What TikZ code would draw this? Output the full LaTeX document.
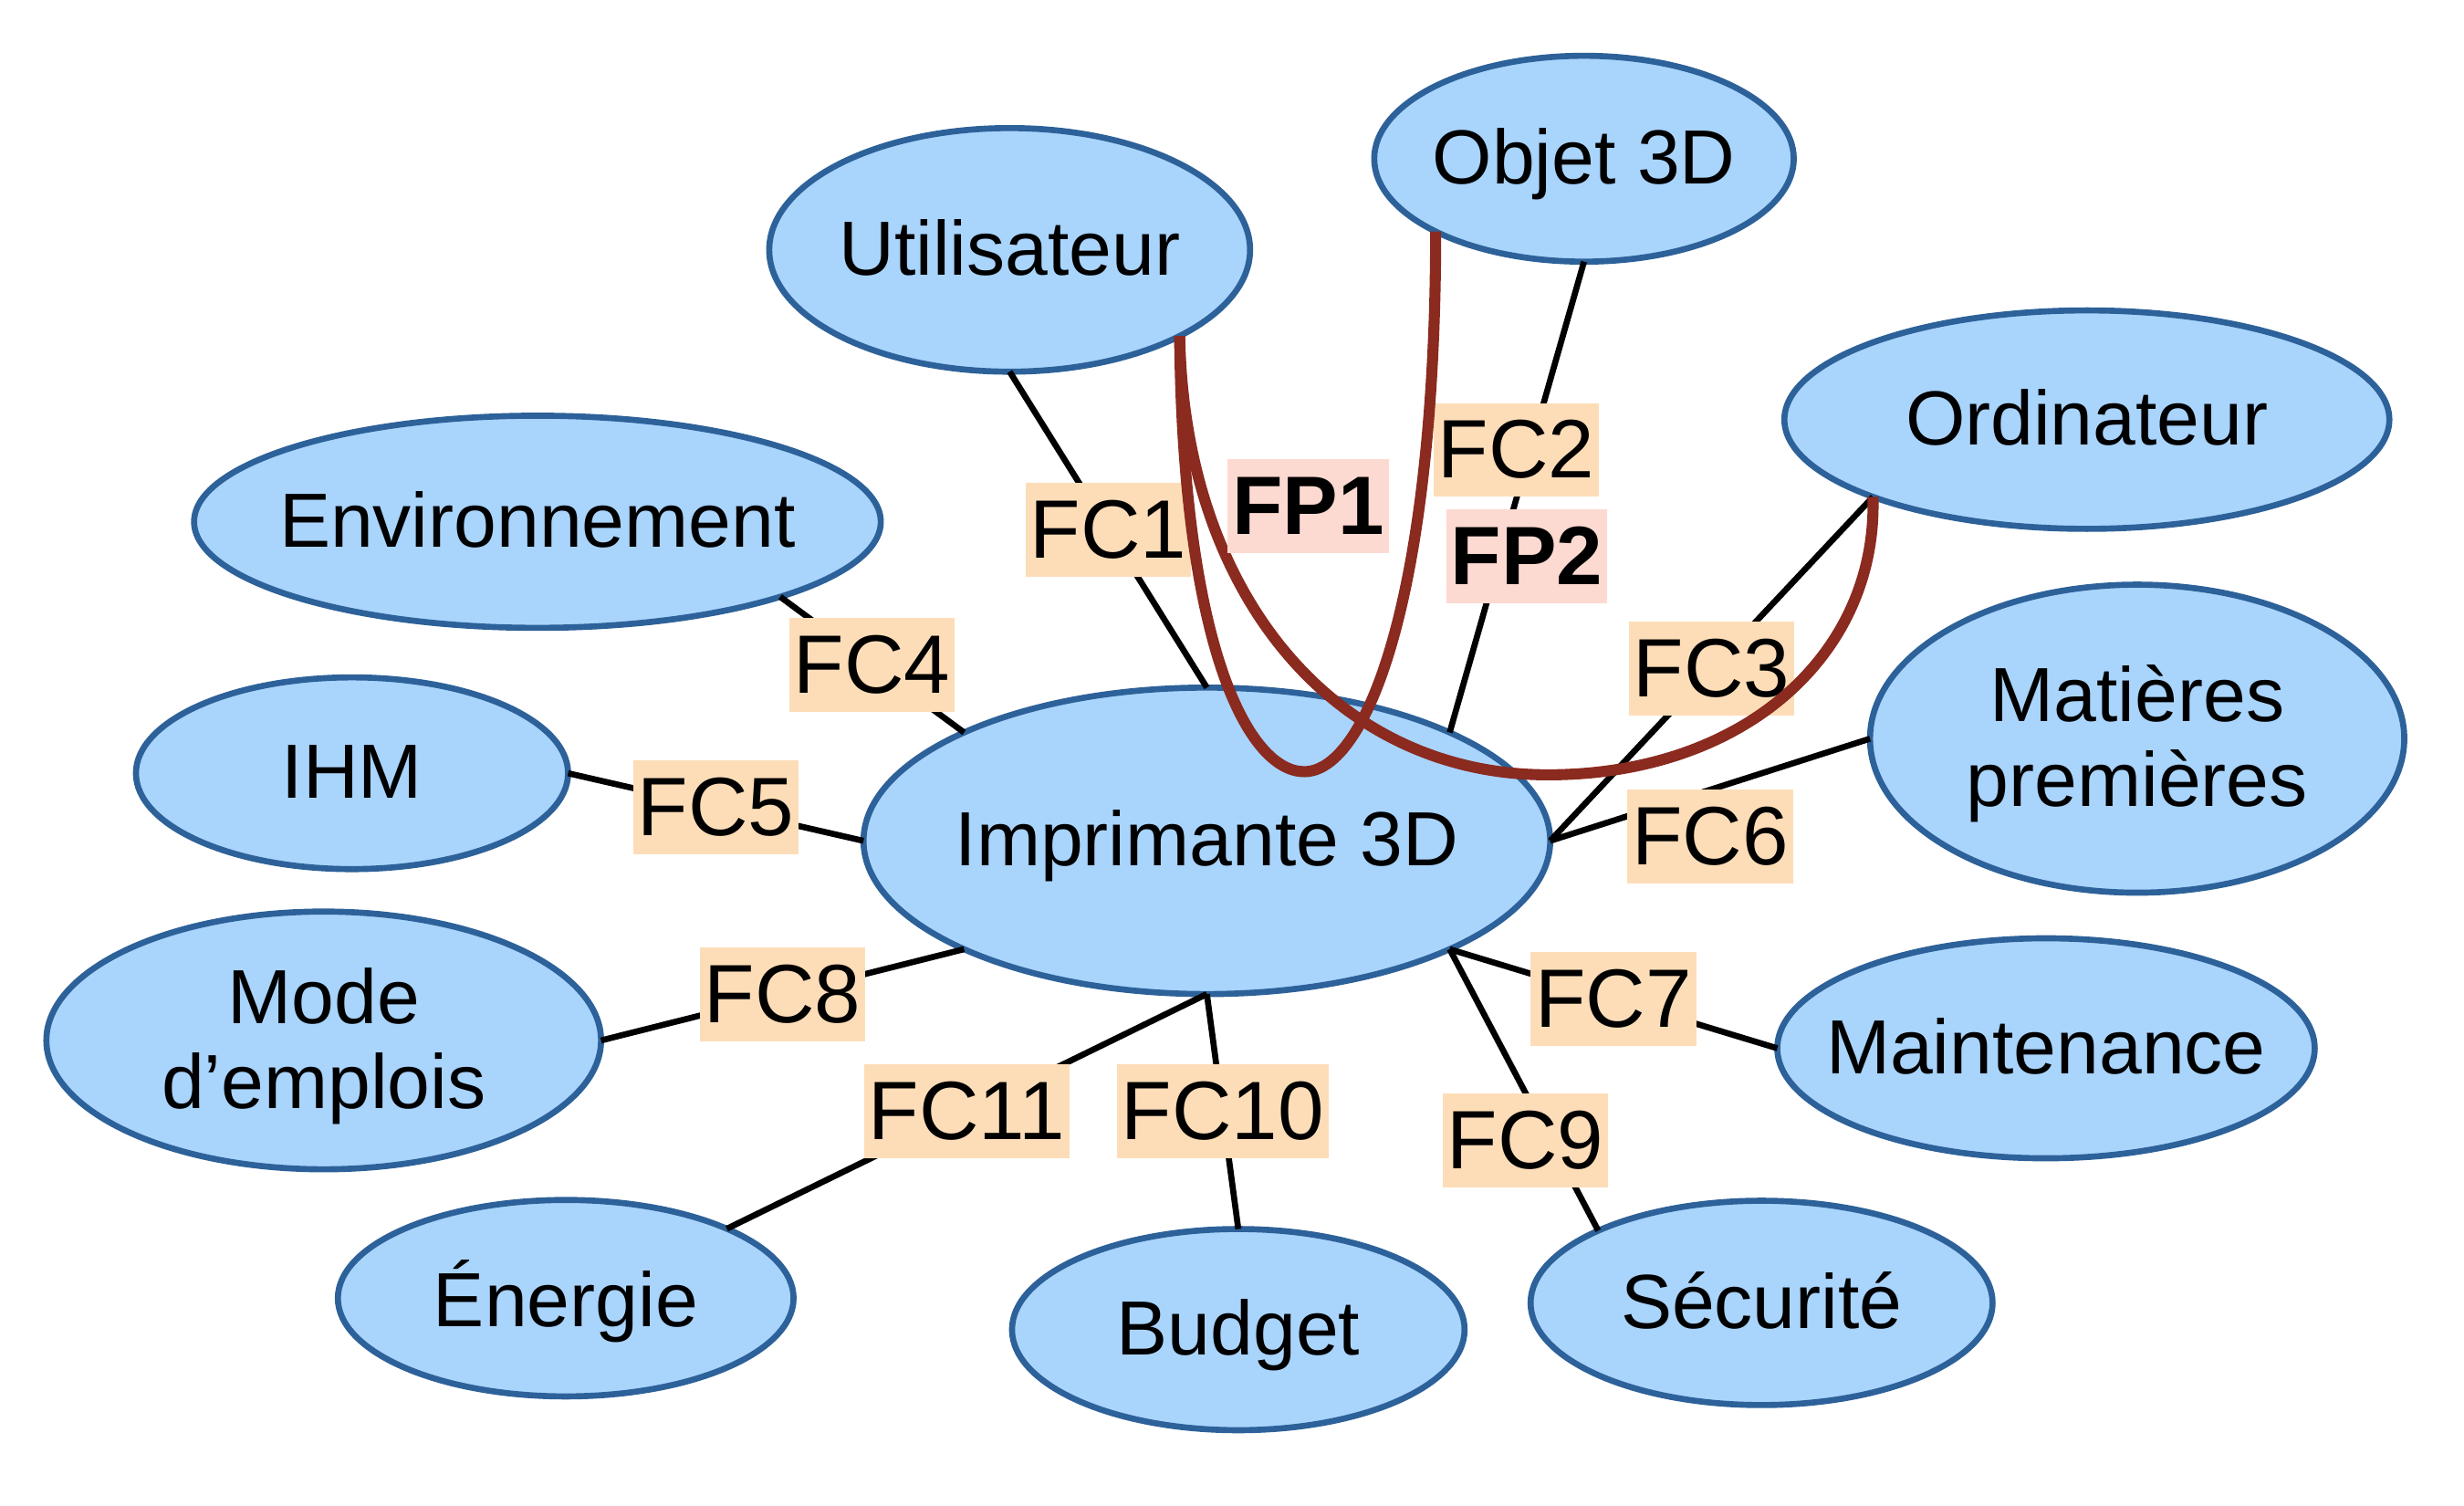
\documentclass[tikz,border=0pt]{standalone}
\usepackage{fontspec}
\setmainfont{Liberation Sans}
\usetikzlibrary{shapes.geometric}
\definecolor{entfill}{HTML}{A9D4FC}
\definecolor{entdraw}{HTML}{2D6199}
\definecolor{fcfill}{HTML}{FDDDB8}
\definecolor{fpfill}{HTML}{FDDAD1}
\definecolor{fpline}{HTML}{8B2A1F}
\newcommand{\entlabel}[1]{\makebox[0pt]{\raisebox{-1.5pt}[\height][\depth]{\begin{tabular}{@{}c@{}}#1\end{tabular}}}}
\begin{document}
\begin{tikzpicture}[x=0.1mm,y=-0.1mm,
  ent/.style={ellipse, draw=entdraw, fill=entfill, line width=1.1pt, inner sep=0pt, outer sep=0pt, font=\fontsize{13.9}{15.4}\selectfont},
  link/.style={draw=black, line width=1.1pt},
  fc/.style={fill=fcfill, inner xsep=0.8pt, inner ysep=0pt, text height=13.6pt, text depth=3.4pt, font=\fontsize{15}{18}\selectfont},
  fp/.style={fill=fpfill, inner xsep=0.8pt, inner ysep=0pt, text height=13.6pt, text depth=3.4pt, font=\fontsize{15}{18}\selectfont\bfseries},
  fpcurve/.style={draw=fpline, line width=2pt}]
\useasboundingbox (0,0) rectangle (1568,958);

% entities
\node[ent, minimum width=30.6mm, minimum height=15.5mm] (u)   at (642.5,159) {\entlabel{Utilisateur}};
\node[ent, minimum width=26.7mm, minimum height=13.1mm] (ob)  at (1008,101)  {\entlabel{Objet 3D}};
\node[ent, minimum width=38.5mm, minimum height=13.9mm] (ord) at (1328,267)  {\entlabel{Ordinateur}};
\node[ent, minimum width=43.7mm, minimum height=13.5mm] (env) at (342,332)   {\entlabel{Environnement}};
\node[ent, minimum width=34.0mm, minimum height=19.6mm] (mp)  at (1360,470)  {\entlabel{Matières\\premières}};
\node[ent, minimum width=27.5mm, minimum height=12.2mm] (ihm) at (224,492)   {\entlabel{IHM}};
\node[ent, minimum width=43.7mm, minimum height=19.5mm] (imp) at (768,535)   {\entlabel{Imprimante 3D}};
\node[ent, minimum width=35.3mm, minimum height=16.4mm] (mode) at (206,662)  {\entlabel{Mode\\d’emplois}};
\node[ent, minimum width=34.2mm, minimum height=14.0mm] (mnt) at (1302,667)  {\entlabel{Maintenance}};
\node[ent, minimum width=29.0mm, minimum height=12.5mm] (ene) at (360,826)   {\entlabel{Énergie}};
\node[ent, minimum width=28.8mm, minimum height=12.8mm] (bud) at (788,846)   {\entlabel{Budget}};
\node[ent, minimum width=29.4mm, minimum height=13.0mm] (sec) at (1121,829)  {\entlabel{Sécurité}};

% constraint links
\draw[link] (u.south) -- node[fc, pos=.5] (fc1) {FC1} (imp.north);
\draw[link] (ob.south) -- node[fc, pos=.4, xshift=-0.9mm] (fc2) {FC2} (imp.north east);
\draw[link] (ord.south west) -- node[fc, pos=.5] (fc3) {FC3} (imp.east);
\draw[link] (env.south east) -- node[fc, pos=.5] (fc4) {FC4} (imp.north west);
\draw[link] (ihm.east) -- node[fc, pos=.5] (fc5) {FC5} (imp.west);
\draw[link] (mp.west) -- node[fc, pos=.5, yshift=-3mm] (fc6) {FC6} (imp.east);
\draw[link] (imp.south east) -- node[fc, pos=.5] (fc7) {FC7} (mnt.west);
\draw[link] (mode.east) -- node[fc, pos=.5] (fc8) {FC8} (imp.south west);
\draw[link] (imp.south east) -- node[fc, pos=.68, xshift=-1.6mm] (fc9) {FC9} (sec.north west);
\draw[link] (imp.south) -- node[fc, pos=.5] (fc10) {FC10} (bud.north);
\draw[link] (imp.south) -- node[fc, pos=.5] (fc11) {FC11} (ene.north east);

% principal functions
\coordinate (ba) at (830,491);
\coordinate (bb) at (985,493);
\draw[fpcurve] (u.south east) .. controls +(2,200) and +(-35,0) .. (ba)
               .. controls +(40,0) and +(0,230) .. (ob.south west);
\draw[fpcurve] (u.south east) .. controls +(3,165) and +(-135,0) .. (bb)
               .. controls +(125,0) and +(3,100) .. (ord.south west);
\node[fp] (fp1) at (832.5,322) {FP1};
\node[fp] (fp2) at (971.5,354) {FP2};
\end{tikzpicture}
\end{document}
